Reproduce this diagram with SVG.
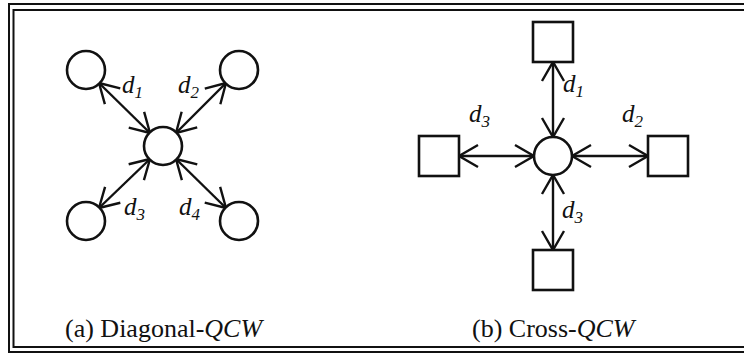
<svg xmlns="http://www.w3.org/2000/svg" width="744" height="356" viewBox="0 0 744 356">
  <style>
    .frame { fill: none; stroke: #111; stroke-width: 2; }
    .node { fill: #fff; stroke: #111; stroke-width: 2.6; }
    .edge { fill: none; stroke: #111; stroke-width: 2.4; marker-start: url(#head); marker-end: url(#head); }
    .lbl { font-family: "Liberation Serif", "Times New Roman", serif; font-style: italic; font-size: 25px; fill: #111; }
    .sub { font-size: 17px; }
    .cap { font-family: "Liberation Serif", "Times New Roman", serif; font-size: 26px; fill: #111; }
    .it { font-style: italic; }
  </style>
  <defs>
    <marker id="head" markerUnits="userSpaceOnUse" markerWidth="40" markerHeight="40" viewBox="-25 -20 30 40" refX="0" refY="0" orient="auto-start-reverse">
      <path d="M -19 -11 L 0 0 L -19 11" fill="none" stroke="#111" stroke-width="2.4" stroke-linejoin="miter"/>
    </marker>
  </defs>

  <rect width="744" height="356" fill="#fff"/>

  <!-- double border, open on the right -->
  <g id="border">
    <path class="frame" d="M 746 4 H 9 V 352 H 746"/>
    <path class="frame" d="M 746 10 H 13.5 V 347 H 746"/>
  </g>

  <!-- connectors -->
  <g id="connectors">
    <!-- (a) diagonal -->
    <line class="edge" x1="99" y1="83" x2="150" y2="133"/>
    <line class="edge" x1="226" y1="83" x2="176" y2="133"/>
    <line class="edge" x1="99" y1="208" x2="150" y2="159"/>
    <line class="edge" x1="226" y1="208" x2="176" y2="159"/>
    <!-- (b) cross -->
    <line class="edge" x1="553" y1="62" x2="553" y2="137"/>
    <line class="edge" x1="553" y1="250" x2="553" y2="175"/>
    <line class="edge" x1="459" y1="156" x2="534" y2="156"/>
    <line class="edge" x1="648" y1="156" x2="572" y2="156"/>
  </g>

  <!-- (a) diagonal nodes -->
  <g id="a-center"><circle class="node" cx="163" cy="146" r="19"/></g>
  <g id="a-top-left"><circle class="node" cx="86" cy="70" r="19"/></g>
  <g id="a-top-right"><circle class="node" cx="239" cy="70" r="19"/></g>
  <g id="a-bottom-left"><circle class="node" cx="86" cy="221" r="19"/></g>
  <g id="a-bottom-right"><circle class="node" cx="239" cy="221" r="19"/></g>

  <!-- (b) cross nodes -->
  <g id="b-center"><circle class="node" cx="553" cy="156" r="19"/></g>
  <g id="b-top"><rect class="node" x="533" y="22" width="40" height="40"/></g>
  <g id="b-bottom"><rect class="node" x="533" y="250" width="40" height="40"/></g>
  <g id="b-left"><rect class="node" x="419" y="136" width="40" height="40"/></g>
  <g id="b-right"><rect class="node" x="648" y="136" width="40" height="40"/></g>

  <!-- distance labels -->
  <g id="labels">
    <text class="lbl" x="122" y="93">d<tspan class="sub" dy="5">1</tspan></text>
    <text class="lbl" x="178" y="93">d<tspan class="sub" dy="5">2</tspan></text>
    <text class="lbl" x="124" y="215">d<tspan class="sub" dy="5">3</tspan></text>
    <text class="lbl" x="179" y="215">d<tspan class="sub" dy="5">4</tspan></text>

    <text class="lbl" x="563" y="92">d<tspan class="sub" dy="5">1</tspan></text>
    <text class="lbl" x="622" y="122">d<tspan class="sub" dy="5">2</tspan></text>
    <text class="lbl" x="469" y="122">d<tspan class="sub" dy="5">3</tspan></text>
    <text class="lbl" x="562" y="218">d<tspan class="sub" dy="5">3</tspan></text>
  </g>

  <!-- captions -->
  <g id="captions">
    <text class="cap" x="65" y="337">(a) Diagonal-<tspan class="it">QCW</tspan></text>
    <text class="cap" x="472" y="337">(b) Cross-<tspan class="it">QCW</tspan></text>
  </g>
</svg>
